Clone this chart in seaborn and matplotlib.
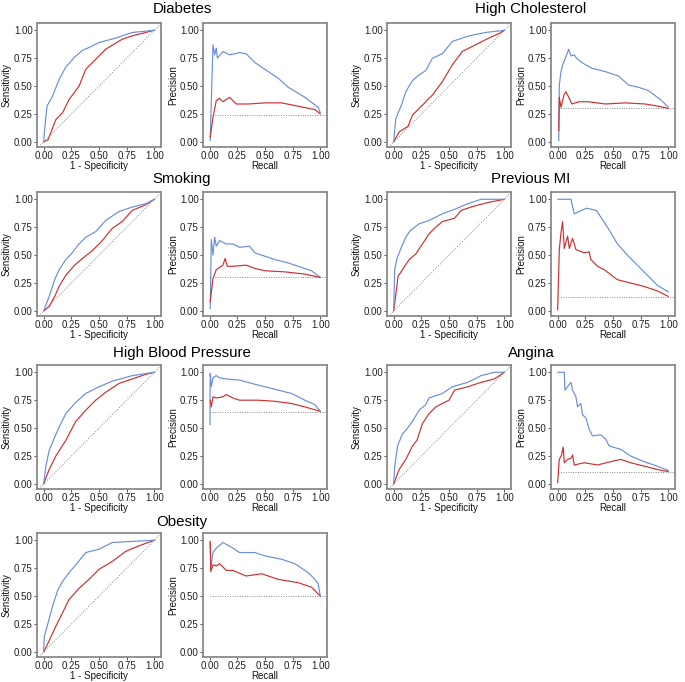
import numpy as np
import pandas as pd
import matplotlib
matplotlib.use("Agg")
import matplotlib.pyplot as plt
import seaborn as sns

# ---------------- data ----------------
titles = ["Diabetes", "High Cholesterol", "Smoking", "Previous MI",
          "High Blood Pressure", "Angina", "Obesity"]
pr_baselines = [0.24, 0.30, 0.30, 0.125, 0.64, 0.107, 0.50]
tick_values = [0.00, 0.25, 0.50, 0.75, 1.00]
tick_labels = ["0.00", "0.25", "0.50", "0.75", "1.00"]

# ROC curves: (1 - specificity, sensitivity)
diabetes_roc_blue = [(0, 0), (0.01, 0.12), (0.03, 0.32), (0.08, 0.41), (0.14, 0.56), (0.2, 0.67),
                     (0.28, 0.76), (0.35, 0.82), (0.42, 0.85), (0.5, 0.89), (0.65, 0.93), (0.8, 0.98), (1, 1)]
diabetes_roc_red = [(0, 0), (0.04, 0.02), (0.11, 0.2), (0.17, 0.26), (0.23, 0.38), (0.32, 0.5),
                    (0.38, 0.65), (0.47, 0.74), (0.56, 0.83), (0.71, 0.92), (0.8, 0.95), (1, 1)]
cholesterol_roc_blue = [(0, 0), (0.02, 0.21), (0.07, 0.33), (0.11, 0.45), (0.17, 0.55), (0.23, 0.6),
                        (0.29, 0.64), (0.35, 0.75), (0.44, 0.79), (0.53, 0.9), (0.68, 0.95), (0.83, 0.98), (1, 1)]
cholesterol_roc_red = [(0, 0), (0.05, 0.09), (0.13, 0.14), (0.17, 0.24), (0.26, 0.33), (0.35, 0.42),
                       (0.44, 0.54), (0.53, 0.69), (0.62, 0.81), (0.74, 0.87), (0.86, 0.93), (0.95, 0.97), (1, 1)]
smoking_roc_blue = [(0, 0), (0.05, 0.13), (0.1, 0.28), (0.14, 0.37), (0.2, 0.46), (0.25, 0.51), (0.32, 0.6),
                    (0.38, 0.66), (0.47, 0.71), (0.56, 0.81), (0.68, 0.89), (0.8, 0.93), (0.92, 0.96), (1, 1)]
smoking_roc_red = [(0, 0), (0.05, 0.04), (0.1, 0.13), (0.14, 0.22), (0.2, 0.32), (0.28, 0.41), (0.35, 0.47),
                   (0.44, 0.54), (0.53, 0.63), (0.62, 0.74), (0.71, 0.8), (0.8, 0.9), (0.92, 0.95), (1, 1)]
mi_roc_blue = [(0, 0), (0.01, 0.37), (0.03, 0.47), (0.07, 0.57), (0.11, 0.66), (0.15, 0.72), (0.23, 0.78),
               (0.32, 0.81), (0.44, 0.87), (0.55, 0.91), (0.67, 0.96), (0.79, 1.0), (1, 1)]
mi_roc_red = [(0, 0), (0.01, 0.07), (0.04, 0.31), (0.08, 0.37), (0.14, 0.46), (0.2, 0.51), (0.26, 0.6),
              (0.32, 0.69), (0.38, 0.75), (0.44, 0.8), (0.55, 0.83), (0.61, 0.9), (0.73, 0.94), (0.85, 0.97), (1, 1)]
hbp_roc_blue = [(0, 0), (0.02, 0.16), (0.05, 0.3), (0.1, 0.42), (0.14, 0.51), (0.2, 0.63), (0.29, 0.73),
                (0.38, 0.81), (0.5, 0.87), (0.62, 0.92), (0.8, 0.97), (1, 1)]
hbp_roc_red = [(0, 0), (0.05, 0.13), (0.11, 0.25), (0.2, 0.39), (0.29, 0.56), (0.38, 0.66), (0.47, 0.75),
               (0.56, 0.82), (0.68, 0.9), (0.8, 0.94), (0.92, 0.98), (1, 1)]
angina_roc_blue = [(0, 0), (0.01, 0.16), (0.035, 0.34), (0.08, 0.45), (0.11, 0.48), (0.17, 0.56), (0.23, 0.66),
                   (0.29, 0.71), (0.32, 0.77), (0.44, 0.81), (0.53, 0.87), (0.67, 0.91), (0.79, 0.97),
                   (0.91, 1.0), (1, 1)]
angina_roc_red = [(0, 0), (0.05, 0.13), (0.11, 0.22), (0.17, 0.34), (0.21, 0.39), (0.26, 0.54), (0.32, 0.63),
                  (0.38, 0.69), (0.5, 0.75), (0.55, 0.84), (0.67, 0.87), (0.79, 0.91), (0.91, 0.94), (1, 1)]
obesity_roc_blue = [(0, 0), (0.006, 0.14), (0.04, 0.26), (0.08, 0.41), (0.13, 0.56), (0.17, 0.63), (0.23, 0.71),
                    (0.29, 0.78), (0.38, 0.89), (0.5, 0.92), (0.62, 0.98), (0.8, 0.99), (1, 1)]
obesity_roc_red = [(0, 0), (0.04, 0.08), (0.11, 0.23), (0.17, 0.35), (0.23, 0.47), (0.32, 0.57), (0.41, 0.65),
                   (0.5, 0.74), (0.62, 0.81), (0.74, 0.9), (0.86, 0.95), (1, 1)]

# Precision-recall curves: (recall, precision)
diabetes_pr_blue = [(0.005, 0.01), (0.03, 0.87), (0.045, 0.78), (0.06, 0.84), (0.07, 0.75), (0.12, 0.81),
                    (0.18, 0.78), (0.27, 0.8), (0.33, 0.79), (0.41, 0.71), (0.5, 0.65), (0.62, 0.57),
                    (0.71, 0.49), (0.86, 0.4), (0.98, 0.31), (1, 0.26)]
diabetes_pr_red = [(0.005, 0.04), (0.03, 0.22), (0.06, 0.37), (0.09, 0.39), (0.12, 0.36), (0.18, 0.4),
                   (0.24, 0.34), (0.35, 0.34), (0.5, 0.35), (0.65, 0.35), (0.8, 0.32), (0.95, 0.29), (1, 0.25)]
cholesterol_pr_blue = [(0.01, 0.01), (0.015, 0.51), (0.03, 0.63), (0.045, 0.69), (0.07, 0.75), (0.1, 0.83),
                       (0.12, 0.77), (0.15, 0.78), (0.17, 0.75), (0.22, 0.71), (0.31, 0.66), (0.43, 0.63),
                       (0.55, 0.59), (0.64, 0.51), (0.73, 0.49), (0.82, 0.46), (0.94, 0.37), (1, 0.31)]
cholesterol_pr_red = [(0.01, 0.1), (0.015, 0.4), (0.03, 0.31), (0.06, 0.43), (0.075, 0.45), (0.1, 0.4),
                      (0.13, 0.34), (0.19, 0.36), (0.28, 0.36), (0.43, 0.34), (0.61, 0.35), (0.79, 0.34),
                      (0.91, 0.32), (1, 0.3)]
smoking_pr_blue = [(0.005, 0.02), (0.015, 0.64), (0.03, 0.5), (0.045, 0.66), (0.06, 0.58), (0.09, 0.63),
                   (0.15, 0.6), (0.21, 0.6), (0.27, 0.57), (0.36, 0.58), (0.41, 0.52), (0.5, 0.49),
                   (0.59, 0.46), (0.71, 0.43), (0.83, 0.39), (0.92, 0.36), (1, 0.3)]
smoking_pr_red = [(0.005, 0.08), (0.03, 0.29), (0.06, 0.37), (0.09, 0.39), (0.12, 0.41), (0.14, 0.47),
                  (0.16, 0.4), (0.21, 0.4), (0.33, 0.41), (0.41, 0.38), (0.5, 0.36), (0.68, 0.35),
                  (0.86, 0.33), (1, 0.3)]
mi_pr_blue = [(0, 1.0), (0.12, 1.0), (0.15, 0.87), (0.26, 0.92), (0.35, 0.9), (0.39, 0.84), (0.45, 0.75),
              (0.54, 0.6), (0.63, 0.5), (0.72, 0.41), (0.81, 0.32), (0.9, 0.23), (1, 0.17)]
mi_pr_red = [(0, 0.01), (0.015, 0.55), (0.03, 0.7), (0.045, 0.8), (0.06, 0.56), (0.09, 0.67), (0.105, 0.56),
             (0.135, 0.65), (0.165, 0.55), (0.24, 0.52), (0.285, 0.53), (0.3, 0.46), (0.36, 0.4),
             (0.42, 0.37), (0.54, 0.28), (0.66, 0.25), (0.78, 0.22), (0.9, 0.18), (1, 0.13)]
hbp_pr_blue = [(0.003, 0.53), (0.005, 0.99), (0.015, 0.87), (0.03, 0.95), (0.06, 0.97), (0.09, 0.95),
               (0.15, 0.94), (0.27, 0.93), (0.38, 0.9), (0.5, 0.87), (0.62, 0.84), (0.74, 0.81),
               (0.86, 0.75), (0.95, 0.71), (1, 0.65)]
hbp_pr_red = [(0.005, 0.75), (0.015, 0.69), (0.03, 0.78), (0.06, 0.77), (0.12, 0.78), (0.15, 0.8),
              (0.21, 0.77), (0.27, 0.75), (0.44, 0.75), (0.59, 0.74), (0.74, 0.72), (0.86, 0.69), (1, 0.65)]
angina_pr_blue = [(0, 1.0), (0.06, 1.0), (0.066, 0.84), (0.12, 0.91), (0.135, 0.84), (0.165, 0.78),
                  (0.18, 0.69), (0.21, 0.72), (0.225, 0.62), (0.255, 0.59), (0.285, 0.49), (0.315, 0.43),
                  (0.39, 0.44), (0.435, 0.4), (0.465, 0.34), (0.57, 0.31), (0.66, 0.25), (0.78, 0.2),
                  (0.9, 0.16), (1, 0.12)]
angina_pr_red = [(0, 0.01), (0.015, 0.22), (0.036, 0.26), (0.05, 0.33), (0.06, 0.19), (0.09, 0.22),
                 (0.12, 0.23), (0.135, 0.26), (0.15, 0.17), (0.24, 0.19), (0.36, 0.17), (0.48, 0.2),
                 (0.57, 0.22), (0.66, 0.19), (0.78, 0.16), (0.9, 0.13), (1, 0.11)]
obesity_pr_blue = [(0.005, 0.99), (0.01, 0.74), (0.03, 0.89), (0.06, 0.93), (0.12, 0.98), (0.21, 0.93),
                   (0.27, 0.89), (0.41, 0.89), (0.5, 0.86), (0.65, 0.83), (0.77, 0.79), (0.89, 0.71),
                   (0.95, 0.65), (0.98, 0.61), (1, 0.5)]
obesity_pr_red = [(0.005, 0.99), (0.01, 0.72), (0.03, 0.78), (0.06, 0.77), (0.09, 0.79), (0.12, 0.76),
                  (0.15, 0.73), (0.21, 0.73), (0.33, 0.68), (0.47, 0.7), (0.62, 0.65), (0.8, 0.62),
                  (0.92, 0.58), (1, 0.5)]

roc_blue = [diabetes_roc_blue, cholesterol_roc_blue, smoking_roc_blue, mi_roc_blue,
            hbp_roc_blue, angina_roc_blue, obesity_roc_blue]
roc_red = [diabetes_roc_red, cholesterol_roc_red, smoking_roc_red, mi_roc_red,
           hbp_roc_red, angina_roc_red, obesity_roc_red]
pr_blue = [diabetes_pr_blue, cholesterol_pr_blue, smoking_pr_blue, mi_pr_blue,
           hbp_pr_blue, angina_pr_blue, obesity_pr_blue]
pr_red = [diabetes_pr_red, cholesterol_pr_red, smoking_pr_red, mi_pr_red,
          hbp_pr_red, angina_pr_red, obesity_pr_red]

# ---------------- style ----------------
sns.set_style("white")
plt.rcParams["font.family"] = ["Liberation Sans", "DejaVu Sans"]

BLUE = "#6A8ED8"
RED = "#CC3030"
FRAME = "#8a8a8a"

W, H = 685, 682
fig = plt.figure(figsize=(W / 100, H / 100), dpi=100)

col_left = [(37, 203), (387, 551)]
row_top = [23, 192, 365, 533]
AX_W, AX_H = 124, 124
title_y = [9, 179, 353, 522]


def make_ax(left_px, top_px):
    return fig.add_axes([left_px / W, 1 - (top_px + AX_H) / H, AX_W / W, AX_H / H])


def style_ax(ax, xlabel, ylabel):
    ax.set_xlim(-0.06, 1.06)
    ax.set_ylim(-0.045, 1.065)
    ax.set_xticks(tick_values)
    ax.set_xticklabels(tick_labels)
    ax.set_yticks(tick_values)
    ax.set_yticklabels(tick_labels)
    ax.tick_params(axis="both", which="both", length=2, width=0.7, color="#555555",
                   labelsize=7, pad=1, labelcolor="#222222", bottom=True, left=True)
    for s in ax.spines.values():
        s.set_color(FRAME)
        s.set_linewidth(1.3)
    ax.set_xlabel(xlabel, fontsize=7, labelpad=0, color="#111111")
    ax.set_ylabel(ylabel, fontsize=7, labelpad=1.5, color="#111111")
    ax.grid(False)


def draw(ax, pts, color):
    df = pd.DataFrame(pts, columns=["x", "y"])
    sns.lineplot(data=df, x="x", y="y", color=color, linewidth=0.85,
                 estimator=None, sort=False, ax=ax)


for i, title in enumerate(titles):
    r, c = divmod(i, 2)
    lx_roc, lx_pr = col_left[c]
    top = row_top[r]

    ax1 = make_ax(lx_roc, top)
    ax1.axline((0, 0), (1, 1), linestyle=(0, (1, 1.5)), color="#888888", linewidth=0.7)
    draw(ax1, roc_red[i], RED)
    draw(ax1, roc_blue[i], BLUE)
    style_ax(ax1, "1 - Specificity", "Sensitivity")

    ax2 = make_ax(lx_pr, top)
    ax2.plot([0, 1.06], [pr_baselines[i], pr_baselines[i]], linestyle=(0, (1, 1.5)),
             color="#888888", linewidth=0.7)
    draw(ax2, pr_blue[i], BLUE)
    draw(ax2, pr_red[i], RED)
    style_ax(ax2, "Recall", "Precision")

    cx = (lx_roc + lx_pr + AX_W) / 2
    fig.text(cx / W, 1 - title_y[r] / H, title, ha="center", va="center",
             fontsize=10.8, color="black")

fig.savefig("out.png", dpi=100)
